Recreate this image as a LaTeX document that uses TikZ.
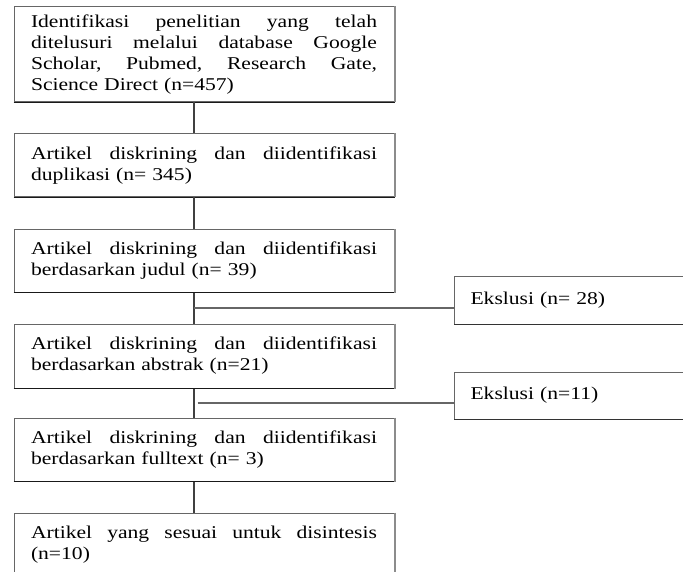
\documentclass[tikz,border=0pt]{standalone}
\usepackage{fontspec}
\newfontfamily\reffont[FakeStretch=1.2]{Liberation Serif}
\begin{document}
\begin{tikzpicture}[x=1pt,y=-1pt,
  mainbox/.style={draw=black!60, line width=1pt, rectangle, inner xsep=17pt, inner ysep=0pt,
    text width=346pt, minimum width=380pt, align=left,
    font=\reffont\fontsize{18}{21}\selectfont},
  eksbox/.style={draw=black!60, line width=1pt, rectangle, inner xsep=16pt, inner ysep=0pt,
    text width=218pt, minimum height=47pt, align=left, anchor=west,
    font=\reffont\fontsize{18}{21}\selectfont},
  vlink/.style={draw=black!75, line width=1.8pt},
  hlink/.style={draw=black!60, line width=1.2pt}]
\clip (0,0) rectangle (683,572);
\fill[white] (0,0) rectangle (683,572);

\node[mainbox, minimum height=95pt] (b1) at (204,54.5) {%
\hbox to \linewidth{Identifikasi\hfill penelitian\hfill yang\hfill telah}\par
\hbox to \linewidth{ditelusuri\hfill melalui\hfill database\hfill Google}\par
\hbox to \linewidth{Scholar,\hfill Pubmed,\hfill Research\hfill Gate,}\par
\hbox{Science Direct (n=457)}};

\node[mainbox, minimum height=63pt] (b2) at (204,165.5) {%
\hbox to \linewidth{Artikel\hfill diskrining\hfill dan\hfill diidentifikasi}\par
\hbox{duplikasi (n= 345)}};

\node[mainbox, minimum height=62pt] (b3) at (204,261) {%
\hbox to \linewidth{Artikel\hfill diskrining\hfill dan\hfill diidentifikasi}\par
\hbox{berdasarkan judul (n= 39)}};

\node[mainbox, minimum height=64pt] (b4) at (204,356) {%
\hbox to \linewidth{Artikel\hfill diskrining\hfill dan\hfill diidentifikasi}\par
\hbox{berdasarkan abstrak (n=21)}};

\node[mainbox, minimum height=63pt] (b5) at (204,449.5) {%
\hbox to \linewidth{Artikel\hfill diskrining\hfill dan\hfill diidentifikasi}\par
\hbox{berdasarkan fulltext (n= 3)}};

\node[mainbox, minimum height=63pt] (b6) at (204,544.5) {%
\hbox to \linewidth{Artikel\hfill yang\hfill sesuai\hfill untuk\hfill disintesis}\par
\hbox{(n=10)}};

\node[eksbox] (e1) at (454,300.5) {Ekslusi (n= 28)};
\node[eksbox] (e2) at (454,395.5) {Ekslusi (n=11)};

% box edges: darker bottom, thicker grey right edge
\foreach \b in {b1,b2,b3,b4,b5,b6}{
  \draw[black!90, line width=1.2pt] (\b.south west) -- (\b.south east);
  \draw[black!45, line width=2pt] (\b.north east) -- (\b.south east);
}
\foreach \b in {e1,e2}{
  \draw[black!80, line width=1.1pt] (\b.south west) -- (\b.south east);
}

% vertical connectors
\draw[vlink] ([xshift=-10pt]b1.south) -- ([xshift=-10pt]b2.north);
\draw[vlink] ([xshift=-10pt]b2.south) -- ([xshift=-10pt]b3.north);
\draw[vlink] ([xshift=-10pt]b3.south) -- ([xshift=-10pt]b4.north);
\draw[vlink] ([xshift=-10pt]b4.south) -- ([xshift=-10pt]b5.north);
\draw[vlink] ([xshift=-10pt]b5.south) -- ([xshift=-10pt]b6.north);

% exclusion branches
\coordinate (j1) at (194,308);
\coordinate (j2) at (197.5,403);
\draw[hlink] (j1) -- (j1 -| e1.west);
\draw[hlink] (j2) -- (j2 -| e2.west);
\end{tikzpicture}
\end{document}
